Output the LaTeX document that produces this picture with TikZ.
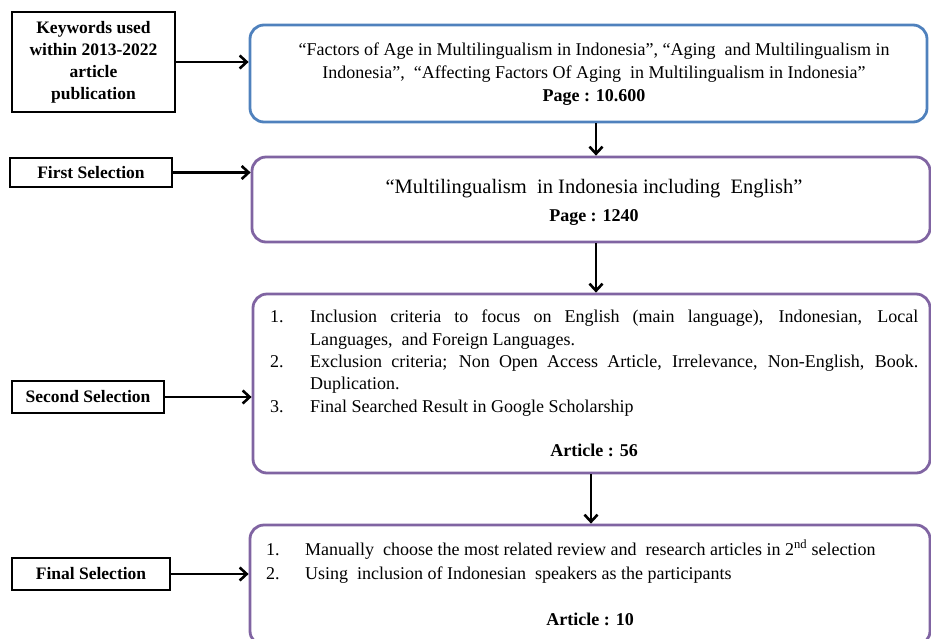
\documentclass[tikz,border=0pt]{standalone}
\usepackage{fontspec}
\setmainfont{Liberation Serif}
\usetikzlibrary{arrows.meta}
\definecolor{bluebd}{HTML}{4F81BD}
\definecolor{purplebd}{HTML}{8064A2}
\begin{document}
\begin{tikzpicture}[x=1pt,y=-1pt,
  lbox/.style={draw=black,line width=2.8pt,fill=white,inner sep=0pt,
    font=\fontsize{17.5}{22}\selectfont\bfseries,align=center},
  rbox/.style={draw=purplebd,line width=2.8pt,rounded corners=14pt,inner sep=0pt},
  conn/.style={line width=2.8pt,-{Straight Barb[length=7pt,width=13pt,line width=2.6pt]}},
  body/.style={font=\fontsize{18}{23}\selectfont}]
\useasboundingbox (0,0) rectangle (931,638);
% left boxes
\node[lbox,minimum width=163pt,minimum height=100pt] (L1) at (93.5,62) {Keywords used\\within 2013-2022\\article\\publication};
\node[lbox,minimum width=162pt,minimum height=29pt] (L2) at (91,172.5) {First Selection};
\node[lbox,minimum width=152pt,minimum height=32pt] (L3) at (88,397) {Second Selection};
\node[lbox,minimum width=158pt,minimum height=32pt] (L4) at (91,574) {Final Selection};
% right boxes
\node[rbox,draw=bluebd,minimum width=677pt,minimum height=97pt] (R1) at (588.5,73.5) {};
\node[body,align=center] at (594,74) {“Factors of Age in Multilingualism in Indonesia”, “Aging\ \ and Multilingualism in\\Indonesia”,\ \ “Affecting Factors Of Aging\ \ in Multilingualism in Indonesia”\\\textbf{Page : 10.600}};
\node[rbox,minimum width=678pt,minimum height=85pt] (R2) at (591,199.5) {};
\node[align=center,font=\fontsize{20.5}{28}\selectfont] at (594,202) {“Multilingualism\ \ in Indonesia including\ \ English”\\\textbf{\fontsize{18}{28}\selectfont Page : 1240}};
\node[rbox,minimum width=677pt,minimum height=179pt] (R3) at (591.5,383.5) {};
\node[anchor=north west,inner sep=0pt] at (270,310) {\begin{minipage}{648pt}\fontsize{18}{22.3}\selectfont
\makebox[40pt][l]{1.}\makebox[608pt][s]{Inclusion criteria to focus on English (main language), Indonesian, Local}\\
\makebox[40pt][l]{}Languages,\ \ and Foreign Languages.\\
\makebox[40pt][l]{2.}\makebox[608pt][s]{Exclusion criteria; Non Open Access Article, Irrelevance, Non-English, Book.}\\
\makebox[40pt][l]{}Duplication.\\
\makebox[40pt][l]{3.}Final Searched Result in Google Scholarship\\[22pt]
\hspace*{0pt}\hfill\textbf{Article : 56}\hfill\hspace*{0pt}
\end{minipage}};
\node[rbox,minimum width=680pt,minimum height=120pt] (R4) at (590,585) {};
\node[anchor=north west,inner sep=0pt] at (266,540) {\begin{minipage}{648pt}\fontsize{18}{24}\selectfont
\makebox[39pt][l]{1.}Manually\ \ choose the most related review and\ \ research articles in 2\textsuperscript{nd} selection\\
\makebox[39pt][l]{2.}Using\ \ inclusion of Indonesian\ \ speakers as the participants\\[22pt]
\hspace*{0pt}\hfill\textbf{Article : 10}\hfill\hspace*{0pt}
\end{minipage}};
% connectors
\draw[conn] (L1.east) -- (L1.east -| R1.west);
\draw[conn] (L2.east) -- (L2.east -| R2.west);
\draw[conn] (L3.east) -- (L3.east -| R3.west);
\draw[conn] (L4.east) -- (L4.east -| R4.west);
\coordinate (a1) at (596,122);
\draw[conn] (R1.south -| a1) -- (R2.north -| a1);
\draw[conn] (R2.south -| a1) -- (R3.north -| a1);
\coordinate (a3) at (591,0);
\draw[conn] (R3.south -| a3) -- (R4.north -| a3);
\end{tikzpicture}
\end{document}
